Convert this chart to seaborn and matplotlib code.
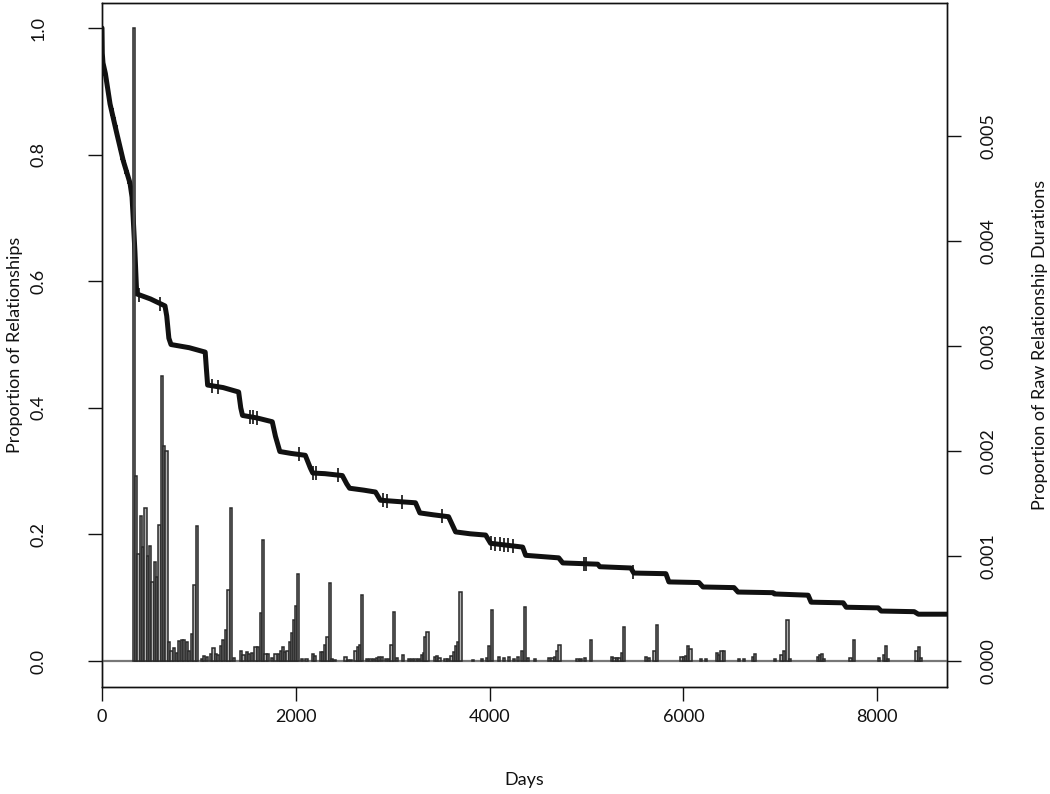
import numpy as np
import matplotlib
matplotlib.use("Agg")
import matplotlib.pyplot as plt
import seaborn as sns

# ---------------- data ----------------
# Kaplan-Meier style survival curve (days, proportion)
km_days = [0, 3, 10, 35, 83, 152, 220, 289, 310, 322, 340, 358, 500, 650, 668, 690, 712,
           900, 1065, 1078, 1090, 1250, 1410, 1432, 1450, 1600, 1757, 1790, 1835, 1950,
           2098, 2150, 2175, 2300, 2480, 2525, 2555, 2700, 2822, 2873, 3050, 3235, 3280,
           3420, 3576, 3649, 3800, 3959, 4010, 4341, 4372, 4713, 4755, 5116, 5137, 5457,
           5488, 5819, 5850, 6160, 6202, 6522, 6563, 6925, 6940, 7287, 7318, 7649, 7680,
           8010, 8041, 8382, 8424, 8720]
km_surv = [1.0, 0.96, 0.945, 0.928, 0.88, 0.834, 0.79, 0.755, 0.733, 0.70, 0.646, 0.58, 0.572, 0.561, 0.545, 0.51, 0.50,
           0.495, 0.488, 0.46, 0.436, 0.432, 0.425, 0.40, 0.388, 0.384, 0.378, 0.355, 0.331, 0.328,
           0.325, 0.305, 0.297, 0.296, 0.293, 0.28, 0.273, 0.27, 0.267, 0.254, 0.252, 0.250, 0.234,
           0.231, 0.228, 0.204, 0.201, 0.199, 0.186, 0.180, 0.167, 0.163, 0.155, 0.153, 0.149, 0.147,
           0.139, 0.138, 0.125, 0.124, 0.117, 0.116, 0.109, 0.108, 0.106, 0.104, 0.093, 0.092, 0.085,
           0.084, 0.079, 0.078, 0.074, 0.074]

# censored observations (days)
censor_days = [12, 25, 40, 55, 70, 95, 110, 130, 150, 175, 200, 240, 270, 300, 330, 380,
               600, 680, 1130, 1200, 1530, 1560, 1600, 2030, 2180, 2210, 2440, 2900, 2940,
               3100, 3510, 4010, 4060, 4110, 4150, 4190, 4240, 4970, 4990, 5480]

# histogram of raw relationship durations (bar centre in days, proportion)
bar_days = [329, 353, 377, 401, 425, 449, 473, 497, 521, 545, 569, 593, 617, 641, 665,
            692, 718, 744, 770, 796, 822, 848, 874, 900, 926, 954, 982,
            1030, 1055, 1080, 1125, 1150, 1175, 1200, 1225, 1250, 1280, 1305, 1330,
            1364, 1437, 1461, 1496, 1520, 1550, 1585, 1609, 1637, 1664,
            1688, 1712, 1754, 1791, 1823, 1845, 1868, 1891, 1914, 1937, 1960, 1981, 2002, 2024,
            2065, 2110, 2178, 2202, 2257, 2281, 2305, 2328, 2353, 2377, 2400,
            2512, 2539, 2567, 2615, 2638, 2661, 2687, 2736, 2770, 2805, 2839, 2862, 2886,
            2932, 2960, 2987, 3015, 3046, 3104, 3166, 3201, 3235, 3270, 3300, 3322, 3338, 3358,
            3435, 3459, 3483, 3545, 3573, 3607, 3631, 3654, 3677, 3700,
            3831, 3924, 3972, 3996, 4027, 4096, 4148, 4200, 4251, 4296, 4338, 4365,
            4400, 4465, 4613, 4648, 4675, 4700, 4722,
            4906, 4941, 4985, 5047,
            5261, 5289, 5318, 5341, 5364, 5387,
            5612, 5643, 5702, 5729,
            5981, 6005, 6027, 6050, 6072,
            6181, 6236, 6346, 6370, 6392, 6415,
            6570, 6622, 6715, 6737,
            6943, 7011, 7035, 7073, 7096,
            7387, 7408, 7429, 7450, 7724, 7759,
            8018, 8069, 8093, 8115, 8406, 8431, 8455]
bar_props = [0.00603, 0.00176, 0.00102, 0.00138, 0.00109, 0.00146, 0.00100, 0.00110, 0.00075, 0.00094, 0.00080, 0.00130, 0.00271, 0.00205, 0.00200,
             0.00018, 0.00010, 0.00012, 0.00008, 0.00019, 0.00020, 0.00020, 0.00018, 0.00010, 0.00026, 0.00072, 0.00129,
             0.00002, 0.00005, 0.00004, 0.00007, 0.00012, 0.00007, 0.00006, 0.00014, 0.00020, 0.00030, 0.00068, 0.00146,
             0.00003, 0.00010, 0.00006, 0.00009, 0.00007, 0.00008, 0.00013, 0.00013, 0.00046, 0.00115,
             0.00007, 0.00007, 0.00003, 0.00007, 0.00007, 0.00010, 0.00013, 0.00009, 0.00010, 0.00018, 0.00027, 0.00039, 0.00052, 0.00083,
             0.00002, 0.00002, 0.00007, 0.00005, 0.00009, 0.00009, 0.00015, 0.00023, 0.00074, 0.00002, 0.00001,
             0.00004, 0.00001, 0.00001, 0.00010, 0.00013, 0.00015, 0.00063, 0.00002, 0.00002, 0.00002, 0.00003, 0.00004, 0.00004,
             0.00002, 0.00002, 0.00015, 0.00047, 0.00003, 0.00006, 0.00002, 0.00002, 0.00002, 0.00002, 0.00006, 0.00008, 0.00023, 0.00028,
             0.00004, 0.00005, 0.00003, 0.00002, 0.00002, 0.00005, 0.00009, 0.00014, 0.00018, 0.00066,
             0.00001, 0.00002, 0.00003, 0.00014, 0.00049, 0.00004, 0.00003, 0.00004, 0.00002, 0.00004, 0.00010, 0.00051,
             0.00003, 0.00002, 0.00003, 0.00003, 0.00004, 0.00010, 0.00015,
             0.00002, 0.00002, 0.00003, 0.00020,
             0.00004, 0.00003, 0.00003, 0.00003, 0.00008, 0.00032,
             0.00004, 0.00003, 0.00010, 0.00034,
             0.00004, 0.00004, 0.00005, 0.00014, 0.00011,
             0.00002, 0.00002, 0.00008, 0.00006, 0.00010, 0.00010,
             0.00002, 0.00002, 0.00004, 0.00007,
             0.00002, 0.00006, 0.00010, 0.00039, 0.00002,
             0.00004, 0.00006, 0.00007, 0.00002, 0.00003, 0.00020,
             0.00003, 0.00006, 0.00014, 0.00002, 0.00010, 0.00013, 0.00003]

x_ticks = [0, 2000, 4000, 6000, 8000]
left_ticks = [0.0, 0.2, 0.4, 0.6, 0.8, 1.0]
left_tick_labels = ["0.0", "0.2", "0.4", "0.6", "0.8", "1.0"]
right_ticks = [0.000, 0.001, 0.002, 0.003, 0.004, 0.005]
right_tick_labels = ["0.000", "0.001", "0.002", "0.003", "0.004", "0.005"]

# ---------------- style ----------------
sns.set_style("ticks")
plt.rcParams["font.family"] = ["Lato", "DejaVu Sans"]
FS = 13

fig = plt.figure(figsize=(10.5, 7.94), dpi=100)
ax = fig.add_axes([102 / 1050, 1 - 687 / 794, 845 / 1050, 684 / 794])
ax2 = ax.twinx()

# survival curve
sns.lineplot(x=km_days, y=km_surv, ax=ax, color="#111111", linewidth=3.6,
             sort=False, estimator=None)
ax.plot(censor_days, np.interp(censor_days, km_days, km_surv), linestyle="none",
        marker="|", markersize=10, markeredgewidth=1.2, color="#111111")

# histogram on secondary axis
ax2.bar(bar_days, bar_props, width=23, facecolor="#b4b4b4", edgecolor="#2a2a2a",
        linewidth=1.1, align="center", zorder=3)
ax2.axhline(0, color="#777777", linewidth=1.6, zorder=2)

# scales
ax.set_xlim(0, 8720)
ylo, yhi = -0.041, 1.0395
k = 0.006029
ax.set_ylim(ylo, yhi)
ax2.set_ylim(ylo * k, yhi * k)

ax.set_xticks(x_ticks)
ax.set_xticklabels([str(t) for t in x_ticks], fontsize=FS)
ax.set_yticks(left_ticks)
ax.set_yticklabels(left_tick_labels, fontsize=FS, rotation=90, va="center")
ax2.set_yticks(right_ticks)
ax2.set_yticklabels(right_tick_labels, fontsize=FS, rotation=90, va="center")

ax.tick_params(axis="x", direction="out", length=10, width=1, pad=6, colors="#111111")
ax.tick_params(axis="y", direction="out", length=10, width=1, pad=30, colors="#111111")
ax2.tick_params(axis="y", direction="out", length=10, width=1, pad=14, colors="#111111")

for a in (ax, ax2):
    for s in a.spines.values():
        s.set_visible(True)
        s.set_color("#111111")
        s.set_linewidth(1.0)

ax.set_xlabel("Days", fontsize=FS, color="#111111")
ax.xaxis.set_label_coords(0.5, -0.124)
ax.set_ylabel("Proportion of Relationships", fontsize=FS, color="#111111", va="center")
ax.yaxis.set_label_coords(-0.103, 0.5)
ax2.set_ylabel("Proportion of Raw Relationship Durations", fontsize=FS, color="#111111",
               rotation=90, va="center")
ax2.yaxis.set_label_coords(1.110, 0.5)

fig.savefig("out.png", dpi=100)
